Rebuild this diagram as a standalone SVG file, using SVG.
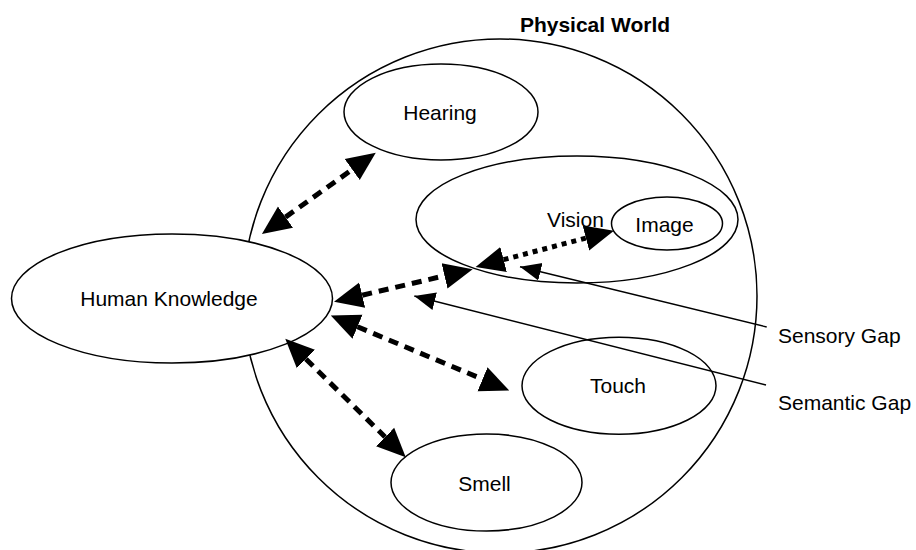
<svg xmlns="http://www.w3.org/2000/svg" width="916" height="550" viewBox="0 0 916 550">
<style>
.shape{fill:#fff;stroke:#000;stroke-width:1.5}
.lbl{font-family:"Liberation Sans",Arial,sans-serif;font-size:21px;fill:#000}
.mid{text-anchor:middle}
.thick{stroke:#000;stroke-width:5;fill:none;stroke-dasharray:10 7;marker-start:url(#bigHead);marker-end:url(#bigHead)}
.dot{stroke:#000;stroke-width:5;fill:none;stroke-dasharray:5 5;marker-start:url(#bigHead);marker-end:url(#bigHead)}
.thin{stroke:#000;stroke-width:1.4;fill:none;marker-end:url(#smallHead)}
</style>
<defs>
<marker id="bigHead" markerUnits="userSpaceOnUse" markerWidth="30" markerHeight="30" viewBox="0 -13 29 26" refX="0" refY="0" orient="auto-start-reverse">
<path d="M0,-12.5 L28,0 L0,12.5 z" fill="#000"/>
</marker>
<marker id="smallHead" markerUnits="userSpaceOnUse" markerWidth="22" markerHeight="20" viewBox="0 -10 22 20" refX="21" refY="0" orient="auto">
<path d="M0,-9 L21,0 L0,9 z" fill="#000"/>
</marker>
</defs>
<rect width="916" height="550" fill="#fff"/>
<g id="physical-world">
<circle class="shape" cx="500" cy="296" r="257" fill="none"/>
<text class="lbl mid" x="595" y="32" font-weight="bold">Physical World</text>
</g>
<g id="human-knowledge">
<ellipse class="shape" cx="172" cy="298.5" rx="160.5" ry="64.5"/>
<text class="lbl mid" x="169" y="306">Human Knowledge</text>
</g>
<g id="hearing">
<ellipse class="shape" cx="441" cy="112" rx="97" ry="48"/>
<text class="lbl mid" x="440" y="120">Hearing</text>
</g>
<g id="vision">
<ellipse class="shape" cx="577" cy="219.5" rx="161" ry="63.5"/>
<text class="lbl mid" x="575.5" y="226.5">Vision</text>
</g>
<g id="image">
<ellipse class="shape" cx="667" cy="223.5" rx="55.5" ry="26.5"/>
<text class="lbl mid" x="664.5" y="231.5">Image</text>
</g>
<g id="touch">
<ellipse class="shape" cx="619" cy="385.7" rx="97" ry="48.5"/>
<text class="lbl mid" x="618" y="392.5">Touch</text>
</g>
<g id="smell">
<ellipse class="shape" cx="486.5" cy="482.5" rx="95.5" ry="48.5"/>
<text class="lbl mid" x="484.5" y="490.5">Smell</text>
</g>
<g id="sensory-gap">
<text class="lbl" x="778" y="343">Sensory Gap</text>
</g>
<g id="semantic-gap">
<text class="lbl" x="778" y="410">Semantic Gap</text>
</g>
<g id="connectors">
<line class="thick" x1="285.5" y1="217.1" x2="352.2" y2="169.5"/>
<line class="thick" x1="362.2" y1="295.2" x2="444.5" y2="275.8"/>
<line class="dot" x1="503.6" y1="259.6" x2="585.9" y2="238.1"/>
<line class="thick" x1="357.5" y1="326.8" x2="482.5" y2="379.2"/>
<line class="thick" x1="305.9" y1="359.0" x2="385.1" y2="437.0"/>
<line class="thin" x1="766.7" y1="327" x2="520" y2="266.7"/>
<line class="thin" x1="766" y1="385" x2="414.3" y2="296"/>
</g>
</svg>
